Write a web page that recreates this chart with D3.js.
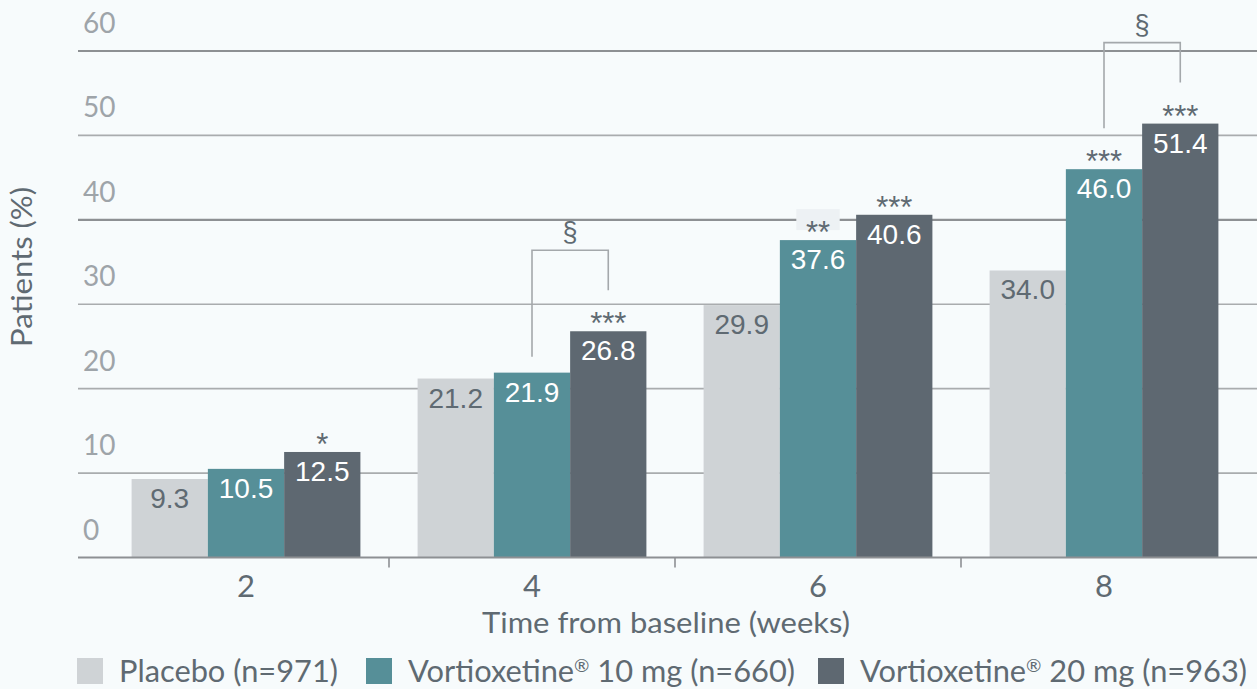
<!DOCTYPE html>
<html>
<head>
<meta charset="utf-8">
<script src="https://cdn.jsdelivr.net/npm/d3@7"></script>
<style>
  html, body { margin: 0; padding: 0; background: #f7fbfc; }
  svg { display: block; }
</style>
</head>
<body>
<svg id="chart" width="1257" height="689"></svg>
<script>
// ---- data ----
const categories = ["2", "4", "6", "8"];
const seriesNames = ["Placebo (n=971)", "Vortioxetine\u00AE 10 mg (n=660)", "Vortioxetine\u00AE 20 mg (n=963)"];
const placebo = [9.3, 21.2, 29.9, 34.0];
const vort10 = [10.5, 21.9, 37.6, 46.0];
const vort20 = [12.5, 26.8, 40.6, 51.4];
const sigPlacebo = ["", "", "", ""];
const sig10 = ["", "", "**", "***"];
const sig20 = ["*", "***", "***", "***"];
const yTicks = [0, 10, 20, 30, 40, 50, 60];
const bracketCats = ["4", "8"];
const bracketLabel = "\u00A7";
const xTitle = "Time from baseline (weeks)";
const yTitle = "Patients (%)";

// ---- styles ----
const colors = ["#cfd3d6", "#568f98", "#5e6871"];
const labelColors = ["#5f6a72", "#ffffff", "#ffffff"];
const textColor = "#5f6a72";
const series = [placebo, vort10, vort20];
const sigs = [sigPlacebo, sig10, sig20];

const svg = d3.select("#chart");
const y = d3.scaleLinear().domain([0, 60]).range([557.5, 51]);
const x0 = d3.scaleBand().domain(categories).range([103, 1247]).paddingInner(0.2).paddingOuter(0.1);
const x1 = d3.scaleBand().domain([0, 1, 2]).range([0, x0.bandwidth()]);
const step = x0.step();

const plotLeft = 78, plotRight = 1257;

// gridlines + y labels
const grid = svg.append("g");
grid.selectAll("line").data(yTicks.filter(t => t > 0)).join("line")
  .attr("x1", plotLeft).attr("x2", plotRight)
  .attr("y1", d => y(d)).attr("y2", d => y(d))
  .attr("stroke", d => (d === 60 || d === 40) ? "#8d9093" : "#a9acae")
  .attr("stroke-width", d => (d === 60 || d === 40) ? 2.2 : 1.6);
grid.selectAll("text").data(yTicks).join("text")
  .attr("x", 83).attr("y", d => y(d) - 18)
  .attr("font-family", "Lato, 'Open Sans', sans-serif")
  .attr("font-size", 28).attr("fill", "#9ea4a9")
  .text(d => d);

// bars
const groups = svg.append("g").selectAll("g").data(categories).join("g")
  .attr("transform", c => `translate(${x0(c)},0)`);

groups.each(function(c, ci) {
  const g = d3.select(this);
  series.forEach((s, si) => {
    const v = s[ci];
    const bx = x1(si), bw = x1.bandwidth();
    g.append("rect").attr("x", bx).attr("y", y(v)).attr("width", bw).attr("height", y(0) - y(v))
      .attr("fill", colors[si]);
    g.append("text").attr("x", bx + bw / 2).attr("y", y(v) + 29)
      .attr("text-anchor", "middle")
      .attr("font-family", "'Liberation Sans', Arial, sans-serif")
      .attr("font-size", 28).attr("fill", labelColors[si])
      .text(v.toFixed(1));
    const sg = sigs[si][ci];
    if (sg) {
      const base = y(v) + 3;
      const glyphTop = base - 21.6, glyphBot = base - 13;
      const crosses = yTicks.some(t => y(t) > glyphTop - 5 && y(t) < glyphBot + 5);
      if (crosses) {
        const w = sg.length * 11.7 + 20;
        g.append("rect").attr("x", bx + bw / 2 - w / 2).attr("y", base - 34)
          .attr("width", w).attr("height", 21).attr("fill", "#edf1f4");
      }
      g.append("text").attr("x", bx + bw / 2).attr("y", base)
        .attr("text-anchor", "middle")
        .attr("font-family", "'Liberation Sans', Arial, sans-serif")
        .attr("font-size", 31).attr("fill", textColor)
        .text(sg);
    }
  });
});

// x axis baseline
svg.append("line").attr("x1", plotLeft).attr("x2", plotRight)
  .attr("y1", y(0)).attr("y2", y(0)).attr("stroke", "#8d9093").attr("stroke-width", 2.2);
// boundary ticks
svg.append("g").selectAll("line").data(categories.slice(1)).join("line")
  .attr("x1", c => x0(c) - step * 0.1).attr("x2", c => x0(c) - step * 0.1)
  .attr("y1", y(0)).attr("y2", y(0) + 10)
  .attr("stroke", "#8d9093").attr("stroke-width", 1.6);

// x tick labels via axis
const xAxis = svg.append("g").attr("transform", `translate(0,${y(0)})`)
  .call(d3.axisBottom(x0).tickSize(0).tickPadding(0));
xAxis.select(".domain").remove();
xAxis.selectAll("text")
  .attr("y", 39.5).attr("dy", 0)
  .attr("font-family", "Lato, 'Open Sans', sans-serif")
  .attr("font-size", 31).attr("fill", textColor);

// brackets
bracketCats.forEach(c => {
  const ci = categories.indexOf(c);
  const xa = x0(c) + x1(1) + x1.bandwidth() / 2;
  const xb = x0(c) + x1(2) + x1.bandwidth() / 2;
  const ta = y(vort10[ci]), tb = y(vort20[ci]);
  const top = Math.min(ta, tb) - 81;
  const ya = ta - (sig10[ci] ? 41 : 16);
  const yb = tb - (sig20[ci] ? 41 : 16);
  svg.append("path")
    .attr("d", `M${xa},${ya}V${top}H${xb}V${yb}`)
    .attr("fill", "none").attr("stroke", "#a4a8ab").attr("stroke-width", 1.6);
  svg.append("text").attr("x", (xa + xb) / 2).attr("y", top - 9)
    .attr("text-anchor", "middle")
    .attr("font-family", "'Liberation Sans', Arial, sans-serif")
    .attr("font-size", 27).attr("fill", textColor)
    .text(bracketLabel);
});

// axis titles
svg.append("text").attr("x", 666).attr("y", 633).attr("text-anchor", "middle")
  .attr("font-family", "Lato, 'Open Sans', sans-serif").attr("font-size", 29)
  .attr("fill", textColor).attr("textLength", 368).attr("lengthAdjust", "spacingAndGlyphs")
  .text(xTitle);
svg.append("text").attr("transform", "translate(32,267) rotate(-90)").attr("text-anchor", "middle")
  .attr("font-family", "Lato, 'Open Sans', sans-serif").attr("font-size", 29)
  .attr("fill", textColor).attr("textLength", 160).attr("lengthAdjust", "spacingAndGlyphs")
  .text(yTitle);

// legend
const legendWidths = [219, 387, 387];
let lx = 77;
const legend = svg.append("g");
seriesNames.forEach((name, i) => {
  legend.append("rect").attr("x", lx).attr("y", 658).attr("width", 26).attr("height", 26).attr("fill", colors[i]);
  const t = legend.append("text").attr("x", lx + 42).attr("y", 682)
    .attr("font-family", "Lato, 'Open Sans', sans-serif").attr("font-size", 30)
    .attr("fill", textColor).attr("textLength", legendWidths[i]).attr("lengthAdjust", "spacingAndGlyphs");
  const parts = name.split("\u00AE");
  t.append("tspan").text(parts[0]);
  if (parts.length > 1) {
    t.append("tspan").attr("font-size", 18).attr("dy", -10).text("\u00AE");
    t.append("tspan").attr("dy", 10).text(parts[1]);
  }
  lx = lx + 42 + legendWidths[i] + (i === 0 ? 28 : 23);
});
</script>
</body>
</html>
